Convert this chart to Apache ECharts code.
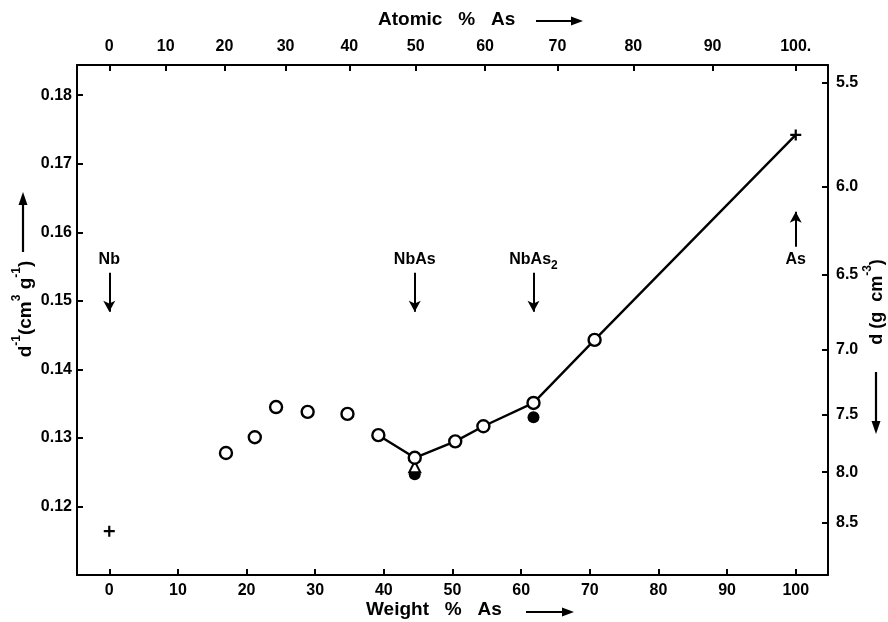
<!DOCTYPE html>
<html><head><meta charset="utf-8">
<script src="https://cdn.jsdelivr.net/npm/echarts@6/dist/echarts.min.js"></script>
<style>html,body{margin:0;padding:0;background:#fff}#c{width:888px;height:622px}</style>
</head><body><div id="c"></div>
<script>
// ---- data (weight % As, 1/d in cm3 g-1) ----
const openWt    = [17.0, 21.2, 24.3, 28.9, 34.7, 39.2, 44.5, 50.4, 54.5, 61.8, 70.7];
const openInvD  = [0.1278, 0.1301, 0.1345, 0.1338, 0.1335, 0.1304, 0.1271, 0.1295, 0.1317, 0.1351, 0.1443];
const filledWt   = [44.5, 61.8];
const filledInvD = [0.1247, 0.1330];
const triWt   = [44.5];
const triInvD = [0.1258];
const elemWt   = [0, 100];
const elemInvD = [0.1164, 0.1742];
const lineWt   = [39.2, 44.5, 50.4, 54.5, 61.8, 70.7, 100];
const lineInvD = [0.1304, 0.1271, 0.1295, 0.1317, 0.1351, 0.1443, 0.1742];

// ---- ticks ----
const weightTicks = [0, 10, 20, 30, 40, 50, 60, 70, 80, 90, 100];
const invDTicks = [0.12, 0.13, 0.14, 0.15, 0.16, 0.17, 0.18];
const atomicTicks = [0, 10, 20, 30, 40, 50, 60, 70, 80, 90, 100];
const atomicLabels = ['0', '10', '20', '30', '40', '50', '60', '70', '80', '90', '100.'];
const densityTicks = [5.5, 6.0, 6.5, 7.0, 7.5, 8.0, 8.5];

// ---- annotations (composition markers) ----
const annoWt = [0, 44.5, 61.8, 100];
const annoText = ['Nb', 'NbAs', 'NbAs2', 'As'];
const annoTextInvD = [0.1557, 0.1557, 0.1557, 0.1557];
const annoArrowFrom = [0.1541, 0.1541, 0.1541, 0.1579];
const annoArrowTo   = [0.1484, 0.1484, 0.1484, 0.1630];

const mNb = 92.906, mAs = 74.922;
const atToWt = a => 100 * a * mAs / (a * mAs + (100 - a) * mNb);
const wtToAt = w => 100 * (w / mAs) / (w / mAs + (100 - w) / mNb);

const FONT = '"Liberation Sans", Arial, sans-serif';
const lab = {color: '#000', fontFamily: FONT, fontWeight: 'bold', fontSize: 16};
const XMIN = -4.7, XMAX = 104.7, YMIN = 0.1100, YMAX = 0.1844;

const chart = echarts.init(document.getElementById('c'), null, {renderer: 'canvas'});
const axLine = {show: true, onZero: false, lineStyle: {color: '#000', width: 2}};
const axTick = {show: true, inside: true, length: 6, lineStyle: {color: '#000', width: 2}};

const arrowData = annoWt.map((w, i) => [{coord: [w, annoArrowFrom[i]]}, {coord: [w, annoArrowTo[i]]}]);

chart.setOption({
  backgroundColor: '#fff',
  animation: false,
  grid: {left: 77, right: 60, top: 65, bottom: 47, containLabel: false},
  xAxis: [
    {type: 'value', position: 'bottom', min: XMIN, max: XMAX,
     axisLine: axLine, axisTick: Object.assign({}, axTick, {customValues: weightTicks}),
     axisLabel: Object.assign({}, lab, {customValues: weightTicks, margin: 8}),
     splitLine: {show: false}},
    {type: 'value', position: 'top', min: XMIN, max: XMAX,
     axisLine: axLine, axisTick: Object.assign({}, axTick, {customValues: atomicTicks.map(atToWt)}),
     axisLabel: Object.assign({}, lab, {customValues: atomicTicks.map(atToWt), margin: 10,
       formatter: v => { const a = Math.round(wtToAt(v)); const k = atomicTicks.indexOf(a); return k >= 0 ? atomicLabels[k] : ''; }}),
     splitLine: {show: false}}
  ],
  yAxis: [
    {type: 'value', position: 'left', min: YMIN, max: YMAX,
     axisLine: axLine, axisTick: Object.assign({}, axTick, {customValues: invDTicks}),
     axisLabel: Object.assign({}, lab, {customValues: invDTicks, margin: 5, formatter: v => v.toFixed(2)}),
     splitLine: {show: false}},
    {type: 'value', position: 'right', min: YMIN, max: YMAX,
     axisLine: axLine, axisTick: Object.assign({}, axTick, {customValues: densityTicks.map(d => 1 / d)}),
     axisLabel: Object.assign({}, lab, {customValues: densityTicks.map(d => 1 / d), margin: 8, formatter: v => (1 / v).toFixed(1)}),
     splitLine: {show: false}}
  ],
  graphic: [
    // top title
    {type: 'text', x: 378, y: 20, style: {text: 'Atomic   %   As', fill: '#000', font: 'bold 19px ' + FONT, verticalAlign: 'middle', align: 'left'}},
    {type: 'line', shape: {x1: 536, y1: 21, x2: 572, y2: 21}, style: {stroke: '#000', lineWidth: 2}},
    {type: 'polygon', shape: {points: [[583, 21], [571, 16.5], [571, 25.5]]}, style: {fill: '#000'}},
    // bottom title
    {type: 'text', x: 366, y: 610, style: {text: 'Weight   %   As', fill: '#000', font: 'bold 19px ' + FONT, verticalAlign: 'middle', align: 'left'}},
    {type: 'line', shape: {x1: 526, y1: 612, x2: 563, y2: 612}, style: {stroke: '#000', lineWidth: 2}},
    {type: 'polygon', shape: {points: [[574, 612], [562, 607.5], [562, 616.5]]}, style: {fill: '#000'}},
    // left title
    {type: 'text', x: 23, y: 309, rotation: Math.PI / 2,
     style: {text: '{n|d}{s|-1}{n|(cm}{s|3}{n| g}{s|-1}{n|)}', align: 'center', verticalAlign: 'middle',
       rich: {n: {fill: '#000', font: 'bold 19px ' + FONT, lineHeight: 24, verticalAlign: 'bottom'},
              s: {fill: '#000', font: 'bold 12px ' + FONT, lineHeight: 24, verticalAlign: 'top'}}}},
    {type: 'line', shape: {x1: 23, y1: 252, x2: 23, y2: 203}, style: {stroke: '#000', lineWidth: 2.2}},
    {type: 'polygon', shape: {points: [[23, 192], [18.5, 205], [27.5, 205]]}, style: {fill: '#000'}},
    // right title
    {type: 'text', x: 874, y: 302, rotation: Math.PI / 2,
     style: {text: '{n|d (g  cm}{s|-3}{n|)}', align: 'center', verticalAlign: 'middle',
       rich: {n: {fill: '#000', font: 'bold 18px ' + FONT, lineHeight: 24, verticalAlign: 'bottom'},
              s: {fill: '#000', font: 'bold 12px ' + FONT, lineHeight: 24, verticalAlign: 'top'}}}},
    {type: 'line', shape: {x1: 876, y1: 372, x2: 876, y2: 422}, style: {stroke: '#000', lineWidth: 2.2}},
    {type: 'polygon', shape: {points: [[876, 434], [871.5, 421], [880.5, 421]]}, style: {fill: '#000'}}
  ],
  series: [
    {type: 'line', name: 'connect', xAxisIndex: 0, yAxisIndex: 0, z: 2,
     data: lineWt.map((w, i) => [w, lineInvD[i]]), symbol: 'none',
     lineStyle: {color: '#000', width: 2.4}},
    {type: 'scatter', name: 'filled', z: 3, data: filledWt.map((w, i) => [w, filledInvD[i]]),
     symbol: 'circle', symbolSize: 12, itemStyle: {color: '#000', opacity: 1}},
    {type: 'scatter', name: 'triangle', z: 4, data: triWt.map((w, i) => [w, triInvD[i]]),
     symbol: 'triangle', symbolSize: 11, itemStyle: {color: '#fff', borderColor: '#000', borderWidth: 2, opacity: 1}},
    {type: 'scatter', name: 'open', z: 5, data: openWt.map((w, i) => [w, openInvD[i]]),
     symbol: 'circle', symbolSize: 12, itemStyle: {color: '#fff', borderColor: '#000', borderWidth: 2.4, opacity: 1}},
    {type: 'scatter', name: 'elements', z: 5, data: elemWt.map((w, i) => [w, elemInvD[i]]),
     symbol: 'path://M4,0H6V4H10V6H6V10H4V6H0V4H4Z', symbolSize: 11, itemStyle: {color: '#000', opacity: 1}},
    {type: 'scatter', name: 'labels', z: 6, silent: true,
     data: annoWt.map((w, i) => ({value: [w, annoTextInvD[i]], name: annoText[i]})),
     symbolSize: 0, itemStyle: {opacity: 1, color: '#000'},
     label: {show: true, position: 'inside', color: '#000', opacity: 1,
       formatter: p => p.name === 'NbAs2' ? '{a|NbAs}{b|2}' : '{a|' + p.name + '}',
       rich: {a: {color: '#000', fontFamily: FONT, fontWeight: 'bold', fontSize: 16, lineHeight: 20, verticalAlign: 'top'},
              b: {color: '#000', fontFamily: FONT, fontWeight: 'bold', fontSize: 12, lineHeight: 20, verticalAlign: 'bottom', padding: [8, 0, 0, 0]}}},
     markLine: {silent: true, symbol: ['none', 'arrow'], symbolSize: [9, 11], label: {show: false},
       lineStyle: {color: '#000', width: 2, type: 'solid', opacity: 1}, emphasis: {disabled: true}, animation: false,
       data: arrowData}}
  ]
});
</script></body></html>
